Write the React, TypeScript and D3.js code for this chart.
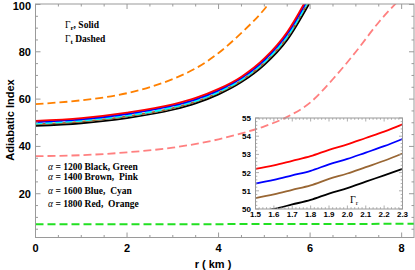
import React from 'react';
import * as d3 from 'd3';

// ---- main plot data (r in km, adiabatic index) ----
const solidR = [0, 1, 2, 3, 3.5, 4, 4.5, 5, 5.5, 6];
const blackSolid = [48.7, 49.8, 52.0, 55.5, 58.2, 62.0, 67.2, 74.5, 85.0, 101];
const brownSolid = [49.3, 50.5, 52.7, 56.2, 58.9, 62.7, 67.9, 75.3, 86.0, 102.5];
const cyanDashed = [49.7, 50.9, 53.1, 56.6, 59.3, 63.1, 68.3, 75.8, 86.6, 103];
const blueSolid = [50.3, 51.4, 53.7, 57.2, 59.9, 63.7, 68.9, 76.5, 87.5, 104];
const redSolid = [50.8, 52.0, 54.3, 57.8, 60.5, 64.3, 69.5, 77.2, 88.4, 105];

const orangeR = [0, 1, 2, 3, 3.5, 4, 4.5, 5, 5.2];
const orangeDashed = [57.9, 59.5, 62.5, 68.5, 73, 79.5, 88, 98, 103];

const pinkR = [0, 1, 2, 3, 4, 4.5, 5, 5.5, 6, 6.5, 7, 7.5, 8];
const pinkDashed = [35.9, 36.3, 37.5, 39.5, 43, 45.5, 48.5, 52.5, 58.5, 68.5, 80, 92.5, 103];

const greenR = [0, 2, 4, 6, 8.3];
const greenDashed = [7.1, 7.1, 7.15, 7.2, 7.3];

const xTicks = [0, 2, 4, 6, 8];
const xTickLabels = ['0', '2', '4', '6', '8'];
const yTicks = [20, 40, 60, 80, 100];
const yTickLabels = ['20', '40', '60', '80', '100'];

// ---- inset data ----
const insetR = [1.5, 1.6, 1.7, 1.8, 1.9, 2.0, 2.1, 2.2, 2.3];
const insetRed = [52.2, 52.4, 52.65, 52.9, 53.25, 53.55, 53.9, 54.25, 54.65];
const insetBlue = [51.4, 51.6, 51.85, 52.1, 52.45, 52.75, 53.1, 53.45, 53.85];
const insetBrown = [50.6, 50.8, 51.05, 51.3, 51.65, 51.95, 52.3, 52.65, 53.05];
const insetBlack = [49.8, 50.0, 50.25, 50.5, 50.85, 51.15, 51.5, 51.85, 52.2];
const insetXTickLabels = ['1.5', '1.6', '1.7', '1.8', '1.9', '2.0', '2.1', '2.2', '2.3'];
const insetYTicks = [50, 51, 52, 53, 54, 55];

const legendLines = [
  ['1200', 'Black, Green'],
  ['1400', 'Brown,  Pink'],
  ['1600', 'Blue,  Cyan'],
  ['1800', 'Red,  Orange'],
];

const W = 415;
const H = 270;
const frame = '#9a9a9a';
const sans = '"Liberation Sans", Arial, sans-serif';
const serif = '"Liberation Serif", "Times New Roman", serif';

export default function App() {
  const x = d3.scaleLinear().domain([0, 8.27]).range([35.5, 414]);
  const y = d3.scaleLinear().domain([1.5, 100.2]).range([237.5, 4]);

  const ix = d3.scaleLinear().domain([1.5, 2.3]).range([255.5, 402.5]);
  const iy = d3.scaleLinear().domain([50, 55]).range([209, 118]);

  const line = d3
    .line<[number, number]>()
    .x((d) => x(d[0]))
    .y((d) => y(d[1]))
    .curve(d3.curveMonotoneX);
  const iline = d3
    .line<[number, number]>()
    .x((d) => ix(d[0]))
    .y((d) => iy(d[1]))
    .curve(d3.curveMonotoneX);

  const zip = (rs: number[], vs: number[]) => rs.map((r, i) => [r, vs[i]] as [number, number]);

  const mainSeries = [
    { d: zip(greenR, greenDashed), c: '#22e022', dash: '8,4', w: 2 },
    { d: zip(pinkR, pinkDashed), c: '#ff8080', dash: '8,4', w: 1.8 },
    { d: zip(orangeR, orangeDashed), c: '#ff8000', dash: '8,4', w: 1.8 },
    { d: zip(solidR, blackSolid), c: '#000000', dash: null, w: 1.8 },
    { d: zip(solidR, brownSolid), c: '#996633', dash: null, w: 1.8 },
    { d: zip(solidR, cyanDashed), c: '#00ffff', dash: '7,3', w: 2 },
    { d: zip(solidR, blueSolid), c: '#0000ff', dash: null, w: 1.8 },
    { d: zip(solidR, redSolid), c: '#ff0000', dash: null, w: 1.8 },
  ];

  const insetSeries = [
    { d: zip(insetR, insetBlack), c: '#000000' },
    { d: zip(insetR, insetBrown), c: '#996633' },
    { d: zip(insetR, insetBlue), c: '#0000ff' },
    { d: zip(insetR, insetRed), c: '#ff0000' },
  ];

  const xMinor = d3.range(0, 8.01, 0.5).filter((v) => v % 2 !== 0);
  const yMinor = d3.range(5, 100, 5).filter((v) => v % 20 !== 0);
  const ixMinor = d3.range(1.5, 2.301, 0.02);
  const iyMinor = d3.range(50, 55.01, 0.2);

  const [x0, x1] = x.range();
  const [y0, y1] = y.range();
  const [ix0, ix1] = ix.range();
  const [iy0, iy1] = iy.range();

  return (
    <svg width={W} height={H} style={{ position: 'absolute', left: 0, top: 0, background: '#fff' }}>
      <defs>
        <clipPath id="mainClip">
          <rect x={x0} y={y1} width={x1 - x0} height={y0 - y1} />
        </clipPath>
        <clipPath id="insetClip">
          <rect x={ix0} y={iy1} width={ix1 - ix0} height={iy0 - iy1} />
        </clipPath>
      </defs>

      {/* main curves */}
      <g clipPath="url(#mainClip)">
        {mainSeries.map((s, i) => (
          <path
            key={i}
            d={line(s.d) || ''}
            fill="none"
            stroke={s.c}
            strokeWidth={s.w}
            strokeDasharray={s.dash || undefined}
          />
        ))}
      </g>

      {/* main frame + ticks */}
      <rect x={x0} y={y1} width={x1 - x0} height={y0 - y1} fill="none" stroke={frame} strokeWidth={1} />
      <g stroke={frame} strokeWidth={1}>
        {xTicks.map((t) => (
          <g key={'xt' + t}>
            <line x1={x(t)} x2={x(t)} y1={y0} y2={y0 - 5} />
            <line x1={x(t)} x2={x(t)} y1={y1} y2={y1 + 5} />
          </g>
        ))}
        {xMinor.map((t) => (
          <g key={'xm' + t}>
            <line x1={x(t)} x2={x(t)} y1={y0} y2={y0 - 2.5} />
            <line x1={x(t)} x2={x(t)} y1={y1} y2={y1 + 2.5} />
          </g>
        ))}
        {yTicks.map((t) => (
          <g key={'yt' + t}>
            <line x1={x0} x2={x0 + 5} y1={y(t)} y2={y(t)} />
            <line x1={x1} x2={x1 - 5} y1={y(t)} y2={y(t)} />
          </g>
        ))}
        {yMinor.map((t) => (
          <g key={'ym' + t}>
            <line x1={x0} x2={x0 + 2.5} y1={y(t)} y2={y(t)} />
            <line x1={x1} x2={x1 - 2.5} y1={y(t)} y2={y(t)} />
          </g>
        ))}
      </g>
      <g fontFamily={sans} fontWeight="bold" fontSize={11} fill="#000">
        {xTicks.map((t, i) => (
          <text key={'xl' + t} x={x(t)} y={252} textAnchor="middle">
            {xTickLabels[i]}
          </text>
        ))}
        {yTicks.map((t, i) => (
          <text key={'yl' + t} x={31} y={Math.max(y(t) + 4, 10)} textAnchor="end">
            {yTickLabels[i]}
          </text>
        ))}
        <text x={213} y={268} textAnchor="middle">
          r ( km )
        </text>
        <text transform="translate(14,120) rotate(-90)" textAnchor="middle">
          Adiabatic Index
        </text>
      </g>

      {/* legend texts */}
      <g fontFamily={serif} fontWeight="bold" fontSize={9.5} fill="#000">
        <text x={65} y={28}>
          <tspan fontWeight="normal">Γ</tspan>
          <tspan fontSize={7} dy={2}>r</tspan>
          <tspan dy={-2}>, Solid</tspan>
        </text>
        <text x={65} y={42}>
          <tspan fontWeight="normal">Γ</tspan>
          <tspan fontSize={7} dy={2}>t</tspan>
          <tspan dy={-2}> Dashed</tspan>
        </text>
        {legendLines.map((l, i) => (
          <text key={l[0]} x={48} y={[170, 180, 194, 207][i]} style={{ whiteSpace: 'pre' }}>
            <tspan fontStyle="italic" fontWeight="normal">α</tspan>
            {` = ${l[0]} ${l[1]}`}
          </text>
        ))}
      </g>

      {/* inset */}
      <g clipPath="url(#insetClip)">
        {insetSeries.map((s, i) => (
          <path key={i} d={iline(s.d) || ''} fill="none" stroke={s.c} strokeWidth={1.8} />
        ))}
      </g>
      <rect x={ix0} y={iy1} width={ix1 - ix0} height={iy0 - iy1} fill="none" stroke={frame} strokeWidth={1} />
      <g stroke={frame} strokeWidth={0.8}>
        {ixMinor.map((t, i) => {
          const len = i % 5 === 0 ? 3.5 : 1.8;
          return (
            <g key={'ixm' + i}>
              <line x1={ix(t)} x2={ix(t)} y1={iy0} y2={iy0 - len} />
              <line x1={ix(t)} x2={ix(t)} y1={iy1} y2={iy1 + len} />
            </g>
          );
        })}
        {iyMinor.map((t, i) => {
          const len = i % 5 === 0 ? 3.5 : 1.8;
          return (
            <g key={'iym' + i}>
              <line x1={ix0} x2={ix0 + len} y1={iy(t)} y2={iy(t)} />
              <line x1={ix1} x2={ix1 - len} y1={iy(t)} y2={iy(t)} />
            </g>
          );
        })}
      </g>
      <g fontFamily={sans} fontWeight="bold" fontSize={8} fill="#000">
        {insetR.map((t, i) => (
          <text key={'ixl' + i} x={ix(t)} y={217} textAnchor="middle">
            {insetXTickLabels[i]}
          </text>
        ))}
        {insetYTicks.map((t) => (
          <text key={'iyl' + t} x={251} y={iy(t) + 3} textAnchor="end">
            {t}
          </text>
        ))}
      </g>
      <text x={350} y={203} fontFamily={serif} fontSize={10} fill="#000">
        Γ<tspan fontSize={7} dy={2}>r</tspan>
      </text>
    </svg>
  );
}
